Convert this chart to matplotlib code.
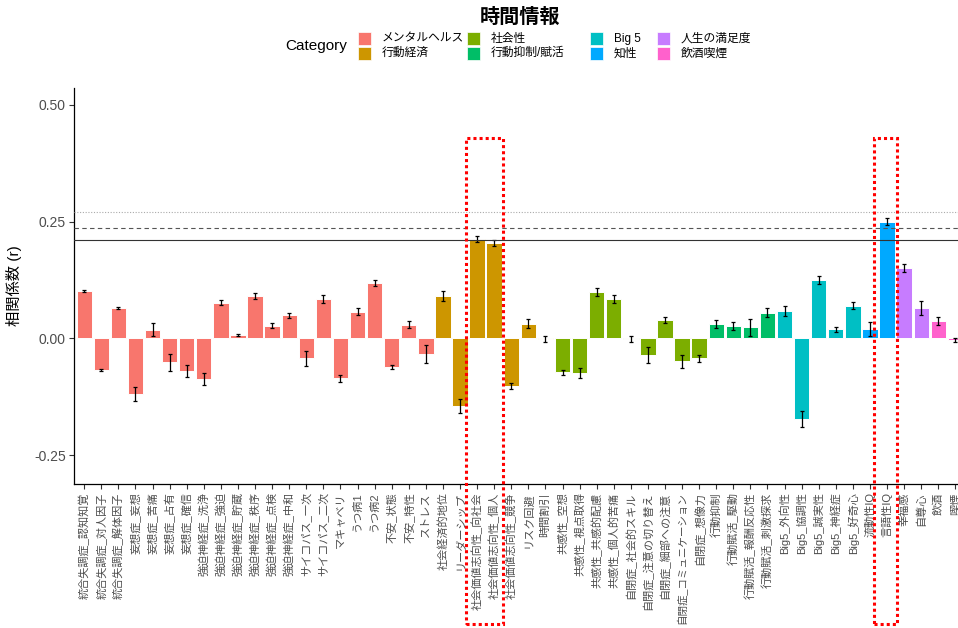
import matplotlib
matplotlib.use("Agg")
import matplotlib.pyplot as plt
from matplotlib.patches import Rectangle
from matplotlib import transforms

plt.rcParams['font.family'] = ['Liberation Sans', 'Noto Sans CJK JP', 'DejaVu Sans']

# ---- data ---------------------------------------------------------------
labels = [
    '統合失調症_認知知覚', '統合失調症_対人因子', '統合失調症_解体因子',
    '妄想症_妄想', '妄想症_苦痛', '妄想症_占有', '妄想症_確信',
    '強迫神経症_洗浄', '強迫神経症_強迫', '強迫神経症_貯蔵', '強迫神経症_秩序',
    '強迫神経症_点検', '強迫神経症_中和', 'サイコパス_一次', 'サイコパス_二次',
    'マキャベリ', 'うつ病1', 'うつ病2', '不安_状態', '不安_特性', 'ストレス',
    '社会経済的地位', 'リーダーシップ', '社会価値志向性_向社会', '社会価値志向性_個人',
    '社会価値志向性_競争', 'リスク回避', '時間割引',
    '共感性_空想', '共感性_視点取得', '共感性_共感的配慮', '共感性_個人的苦痛',
    '自閉症_社会的スキル', '自閉症_注意の切り替え', '自閉症_細部への注意',
    '自閉症_コミュニケーション', '自閉症_想像力',
    '行動抑制', '行動賦活_駆動', '行動賦活_報酬反応性', '行動賦活_刺激探求',
    'Big5_外向性', 'Big5_協調性', 'Big5_誠実性', 'Big5_神経症', 'Big5_好奇心',
    '流動性IQ', '言語性IQ', '幸福感', '自尊心', '飲酒', '喫煙',
]

category = (['メンタルヘルス'] * 21 + ['行動経済'] * 7 + ['社会性'] * 9 +
            ['行動抑制/賦活'] * 4 + ['Big 5'] * 5 + ['知性'] * 2 +
            ['人生の満足度'] * 2 + ['飲酒喫煙'] * 2)

values = [
    0.102, -0.068, 0.065, -0.119, 0.018, -0.051, -0.070, -0.087, 0.076, 0.007,
    0.091, 0.027, 0.049, -0.043, 0.084, -0.086, 0.057, 0.119, -0.062, 0.029,
    -0.034, 0.091, -0.145, 0.213, 0.204, -0.102, 0.031, -0.001, -0.073, -0.075,
    0.099, 0.084, -0.002, -0.036, 0.039, -0.049, -0.043, 0.031, 0.026, 0.024,
    0.055, 0.059, -0.173, 0.125, 0.019, 0.070, 0.019, 0.250, 0.151, 0.065,
    0.037, -0.003,
]

errors = [
    0.002, 0.003, 0.003, 0.015, 0.014, 0.018, 0.013, 0.012, 0.005, 0.003,
    0.007, 0.005, 0.006, 0.016, 0.009, 0.007, 0.007, 0.006, 0.004, 0.007,
    0.019, 0.011, 0.014, 0.006, 0.0065, 0.007, 0.010, 0.006, 0.005, 0.011,
    0.009, 0.008, 0.006, 0.017, 0.006, 0.014, 0.007, 0.009, 0.009, 0.018,
    0.009, 0.011, 0.018, 0.009, 0.005, 0.008, 0.015, 0.007, 0.0085, 0.015,
    0.008, 0.004,
]

legend_names = ['メンタルヘルス', '行動経済', '社会性', '行動抑制/賦活',
                'Big 5', '知性', '人生の満足度', '飲酒喫煙']
legend_colors = ['#F8766D', '#CD9600', '#7CAE00', '#00BE67',
                 '#00BFC4', '#00A9FF', '#C77CFF', '#FF61CC']

# reference lines for correlation thresholds
thresholds = [0.21, 0.236, 0.27]

# bars outlined by red dotted frames (first index, last index)
highlight = [(23, 24), (47, 47)]

# ---- figure -------------------------------------------------------------
W, H = 958, 628
fig = plt.figure(figsize=(W / 100, H / 100), dpi=100)
fig.patch.set_facecolor('white')

ax = fig.add_axes([74 / W, 1 - 484 / H, (965.6 - 74) / W, (484 - 88) / H])

color_of = dict(zip(legend_names, legend_colors))
x = list(range(len(labels)))
bar_colors = [color_of[c] for c in category]

ax.bar(x, values, width=0.9, color=bar_colors, edgecolor='white',
       linewidth=0.7, zorder=2)
ax.errorbar(x, values, yerr=errors, fmt='none', ecolor='black',
            elinewidth=0.9, capsize=1.3, capthick=0.9, zorder=3)

ax.axhline(thresholds[0], color='#333333', linewidth=0.8, zorder=4)
ax.axhline(thresholds[1], color='#555555', linewidth=0.8,
           linestyle=(0, (4, 3)), zorder=4)
ax.axhline(thresholds[2], color='#AAAAAA', linewidth=0.8,
           linestyle=(0, (1, 1.5)), zorder=4)

ax.set_xlim(-0.6, len(labels) - 1 + 0.6)
ax.set_ylim(-0.312, 0.536)

ax.set_yticks([-0.25, 0.0, 0.25, 0.50])
ax.set_yticklabels(['-0.25', '0.00', '0.25', '0.50'])
ax.set_xticks(x)
ax.set_xticklabels(labels, rotation=90, ha='center', va='top')

ax.tick_params(axis='y', labelsize=10, labelcolor='#4D4D4D', length=3.5,
               width=0.8, color='#333333', pad=2.5)
ax.tick_params(axis='x', labelsize=8.0, labelcolor='#4D4D4D', length=3.5,
               width=0.8, color='#333333', pad=2.5)

for s in ('top', 'right'):
    ax.spines[s].set_visible(False)
for s in ('left', 'bottom'):
    ax.spines[s].set_linewidth(0.9)
    ax.spines[s].set_color('black')

# axis title and chart title
fig.text(14 / W, 1 - 286 / H, '相関係数 (r)', rotation=90, ha='center',
         va='center', fontsize=11)
fig.text(520 / W, 1 - 17 / H, '時間情報', ha='center', va='center',
         fontsize=14.5, fontweight='bold')

# legend drawn as keys + labels in two rows, four columns
fig.text(285 / W, 1 - 46 / H, 'Category', ha='left', va='center', fontsize=11)
col_x = [358, 467, 590, 657]
row_y = [32, 46.7]
key = 13.3
for i, (name, col) in enumerate(zip(legend_names, legend_colors)):
    cx = col_x[i // 2]
    ry = row_y[i % 2]
    fig.add_artist(Rectangle((cx / W, 1 - (ry + key) / H), key / W, key / H,
                             transform=fig.transFigure, facecolor=col,
                             edgecolor='white', linewidth=0.5))
    fig.text((cx + 24) / W, 1 - (ry + key / 2) / H, name, ha='left',
             va='center', fontsize=8.5)

# red dotted frames around highlighted bars (x in data, y in figure units)
trans = transforms.blended_transform_factory(ax.transData, fig.transFigure)
pads = [(0.65, 0.51), (0.76, 0.59)]
top_y, bot_y = 1 - 138 / H, 1 - 624 / H
for (i0, i1), (pl, pr) in zip(highlight, pads):
    x0 = i0 - pl
    x1 = i1 + pr
    fig.add_artist(Rectangle((x0, bot_y), x1 - x0, top_y - bot_y,
                             transform=trans, fill=False, edgecolor='#FF0000',
                             linewidth=2.2, linestyle=(0, (1, 1)),
                             clip_on=False, zorder=10))

# shrink any category label that would run past the bottom edge
fig.canvas.draw()
renderer = fig.canvas.get_renderer()
for t in ax.get_xticklabels():
    bb = t.get_window_extent(renderer)
    if bb.y0 < 3:
        avail = bb.y1 - 3
        t.set_fontsize(t.get_fontsize() * avail / bb.height)

fig.savefig('out.png', dpi=100)
